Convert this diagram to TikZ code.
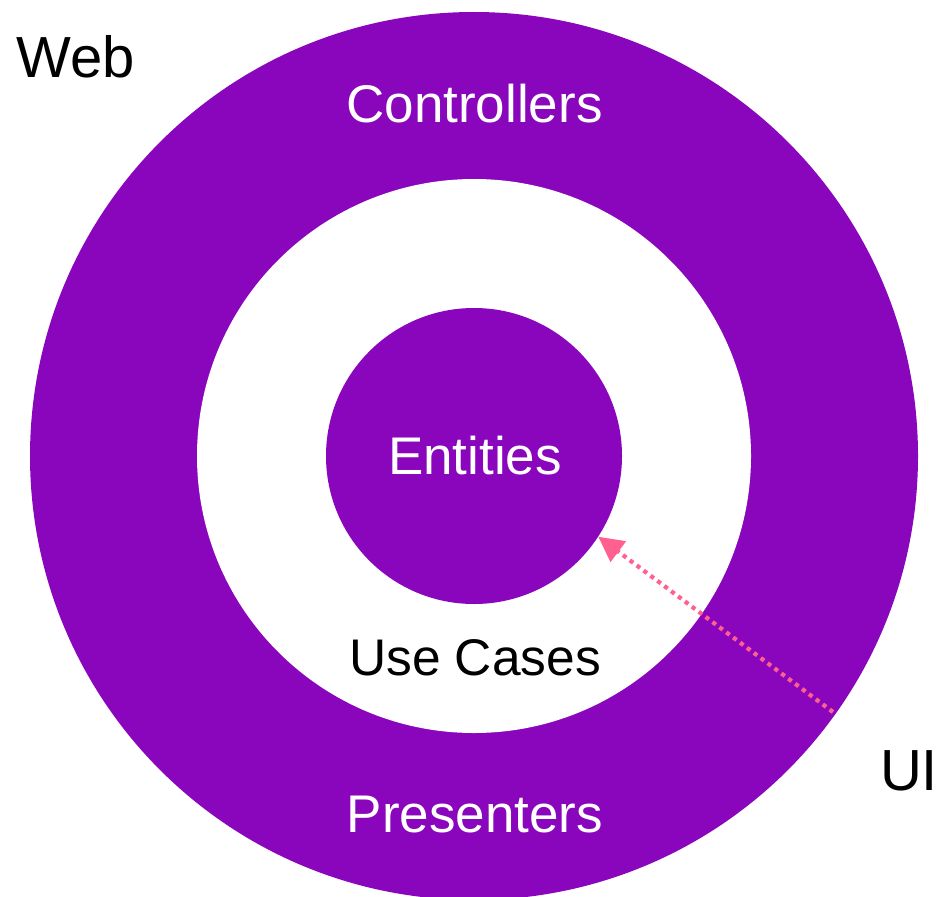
\documentclass[tikz,border=0pt]{standalone}
\usepackage{fontspec}
\setmainfont{Liberation Sans}
\usetikzlibrary{arrows.meta}
\definecolor{ringpurple}{HTML}{8A06BC}
\definecolor{linkpink}{HTML}{FF6090}
\tikzset{
  disc/.style={circle, fill=ringpurple, draw=none, inner sep=0pt},
  hole/.style={circle, fill=white, draw=none, inner sep=0pt},
  ringlabel/.style={anchor=base, text=white, inner sep=0pt, font=\fontsize{53}{60}\selectfont},
  plainlabel/.style={anchor=base, text=black, inner sep=0pt, font=\fontsize{51.5}{60}\selectfont},
  outerlabel/.style={anchor=base, text=black, inner sep=0pt, font=\fontsize{58}{66}\selectfont},
  dependency/.style={draw=linkpink, line width=4.2pt, dash pattern=on 4.2pt off 4.4pt,
    -{Triangle[length=25pt, width=25pt]}, shorten >=0pt}
}
\begin{document}
\begin{tikzpicture}[x=1pt, y=-1pt]
  \useasboundingbox (0,0) rectangle (941,896);
  \begin{scope}
    \clip (0,0) rectangle (941,896);
    % concentric layers
    \node[disc, minimum size=888pt] (frameworks) at (474,456) {};
    \node[hole, minimum size=554pt] (usecases) at (474,456) {};
    \node[disc, minimum size=296pt] (entities) at (474,456) {};
  \end{scope}
  % layer names
  \node[ringlabel] (ctrl) at (474.5,123) {Controllers};
  \node[ringlabel] (ent) at (475,474) {Entities};
  \node[plainlabel] (uc) at (475,675) {Use Cases};
  \node[ringlabel] (pres) at (475,832) {Presenters};
  \node[outerlabel] (web) at (76,78) {Web};
  \node[outerlabel] (ui) at (909,790) {UI};
  % dependency pointing inward
  \coordinate (uitail) at (833,712);
  \draw[dependency] (uitail) -- (entities.-33.7);
\end{tikzpicture}
\end{document}
